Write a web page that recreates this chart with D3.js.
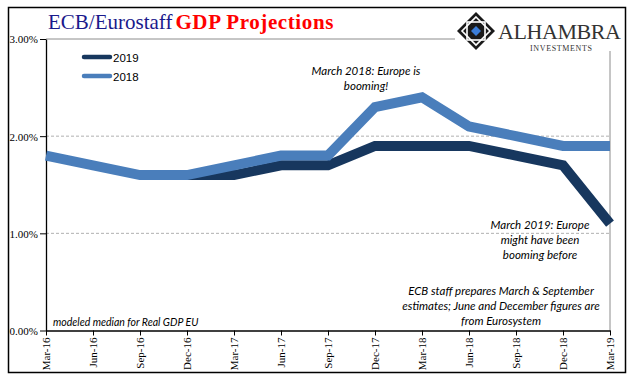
<!DOCTYPE html>
<html><head><meta charset="utf-8">
<script src="https://cdn.jsdelivr.net/npm/d3@7"></script>
<style>body{margin:0;background:#fff}svg{display:block}</style>
</head><body>
<svg id="c" width="641" height="381"></svg>
<script>
const categories = ["Mar-16","Jun-16","Sep-16","Dec-16","Mar-17","Jun-17","Sep-17","Dec-17","Mar-18","Jun-18","Sep-18","Dec-18","Mar-19"];
const series2019 = [null,null,null,1.6,1.6,1.7,1.7,1.9,1.9,1.9,1.8,1.7,1.1];
const series2018 = [1.8,1.7,1.6,1.6,1.7,1.8,1.8,2.3,2.4,2.1,2.0,1.9,1.9];
const yTicks = [0,1,2,3];
const seriesNames = ["2019","2018"];
const colors = {"2019":"#17375e","2018":"#4a7ebb"};

const svg = d3.select("#c");
const L = 46, R = 610, T = 39, B = 330.5;
const x = d3.scalePoint().domain(categories).range([L, R]);
const y = d3.scaleLinear().domain([0,3]).range([B, T]);

// plot border (top and right)
svg.append("path").attr("d",`M${L},${T}H${R}V${B}`).attr("fill","none").attr("stroke","#8c8c8c").attr("stroke-width",1);

// gridlines
svg.append("g").selectAll("line").data(yTicks.filter(d=>d>0&&d<3)).join("line")
  .attr("x1",L).attr("x2",R).attr("y1",d=>y(d)).attr("y2",d=>y(d))
  .attr("stroke","#b0b0b0").attr("stroke-dasharray","3,2").attr("stroke-width",1);

// y axis
const yAxis = d3.axisLeft(y).tickValues(yTicks).tickFormat(d=>d.toFixed(2)+"%").tickSize(6).tickSizeOuter(0);
const gy = svg.append("g").attr("transform",`translate(${L},0)`).call(yAxis);
gy.select(".domain").attr("stroke","#000").attr("stroke-width",1.3);
gy.selectAll(".tick line").attr("stroke","#000");
gy.selectAll("text").attr("font-family","Liberation Serif").attr("font-size",11).attr("fill","#000").attr("x",-8).attr("dy","0.35em");

// x axis
const xAxis = d3.axisBottom(x).tickSize(5).tickSizeOuter(0);
const gx = svg.append("g").attr("transform",`translate(0,${B})`).call(xAxis);
gx.select(".domain").attr("stroke","#000").attr("stroke-width",1.3);
gx.selectAll(".tick line").attr("stroke","#000");
gx.selectAll("text").attr("font-family","Liberation Serif").attr("font-size",11).attr("fill","#000")
  .attr("transform","rotate(-90)").attr("text-anchor","end").attr("x",-7).attr("y",0).attr("dy","0.35em");

// lines
const line = d3.line().defined(d=>d.v!=null).x(d=>x(d.c)).y(d=>y(d.v));
const data = {"2019":series2019,"2018":series2018};
seriesNames.forEach(n=>{
  svg.append("path").datum(categories.map((c,i)=>({c,v:data[n][i]})))
    .attr("d",line).attr("fill","none").attr("stroke",colors[n]).attr("stroke-width",10).attr("stroke-linejoin","miter");
});

// legend
seriesNames.forEach((n,i)=>{
  const ly = 57 + i*19;
  svg.append("line").attr("x1",84).attr("x2",110).attr("y1",ly).attr("y2",ly)
    .attr("stroke",colors[n]).attr("stroke-width",4.5).attr("stroke-linecap","round");
  svg.append("text").attr("x",113).attr("y",ly+4.5).text(n)
    .attr("font-family","Liberation Sans").attr("font-size",11.5).attr("fill","#000");
});

// title
const title = svg.append("text").attr("x",48).attr("y",29).attr("font-family","Liberation Serif").attr("font-size",21);
title.append("tspan").attr("fill","#1a1a8c").text("ECB/Eurostaff");
title.append("tspan").attr("fill","#f00").attr("font-weight","bold").attr("dx",3).attr("letter-spacing",0.6).text("GDP Projections");

// annotations
function note(lines, cx, y0, lh, size, anchor="middle"){
  const t = svg.append("text").attr("font-family","Lato").attr("font-style","italic").attr("font-size",size).attr("fill","#000").attr("text-anchor",anchor);
  lines.forEach((s,i)=>t.append("tspan").attr("x",cx).attr("y",y0+i*lh).text(s));
}
note(["March 2018: Europe is","booming!"],366,75,14.5,11.5);
note(["March 2019: Europe","might have been","booming before"],540,229,15,11.5);
note(["ECB staff prepares March & September","estimates; June and December figures are","from Eurosystem"],501,295,15,11.5);
note(["modeled median for Real GDP EU"],53,326,0,10.5,"start");

// logo
const lg = svg.append("g");
lg.append("rect").attr("x",455).attr("y",9).attr("width",168).attr("height",42).attr("fill","#fff");
const cx0 = 476, cy0 = 31;
lg.append("path").attr("d",`M${cx0},${cy0-19}L${cx0+19},${cy0}L${cx0},${cy0+19}L${cx0-19},${cy0}Z`).attr("fill","#1a1a1a");
lg.append("path").attr("d",`M${cx0},${cy0-14}L${cx0+14},${cy0}L${cx0},${cy0+14}L${cx0-14},${cy0}Z`).attr("fill","none").attr("stroke","#fff").attr("stroke-width",1.6);
lg.append("rect").attr("x",cx0-9).attr("y",cy0-9).attr("width",18).attr("height",18).attr("fill","none").attr("stroke","#fff").attr("stroke-width",1.6);
lg.append("path").attr("d",`M${cx0},${cy0-8}L${cx0+8},${cy0}L${cx0},${cy0+8}L${cx0-8},${cy0}Z`).attr("fill","#1a1a1a");
lg.append("path").attr("d",`M${cx0},${cy0-5}L${cx0+5},${cy0}L${cx0},${cy0+5}L${cx0-5},${cy0}Z`).attr("fill","#3b7dd8");
lg.append("text").attr("x",498).attr("y",39).attr("font-family","Liberation Serif").attr("font-size",22).attr("fill","#333").attr("textLength",123).text("ALHAMBRA");
lg.append("text").attr("x",530).attr("y",51).attr("font-family","Liberation Serif").attr("font-size",8).attr("fill","#333").attr("textLength",62).text("INVESTMENTS");

// outer frame
svg.append("path").attr("d","M8.5,7.5H625.5V372.5H8.5Z").attr("fill","none").attr("stroke","#000").attr("stroke-width",1.5);
</script>
</body></html>
